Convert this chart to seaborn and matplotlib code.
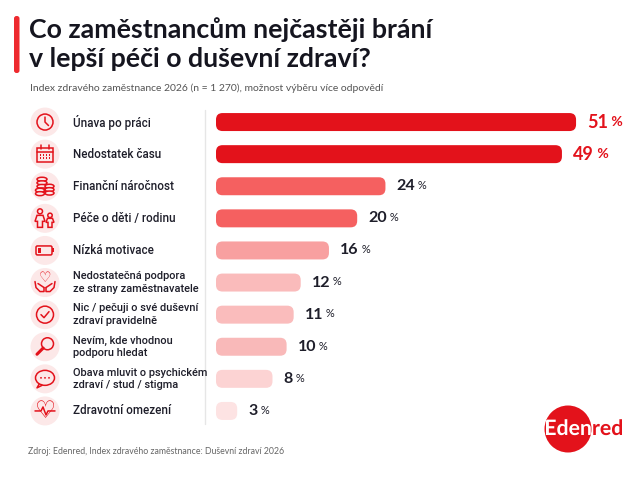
import matplotlib
matplotlib.use("Agg")
import matplotlib.pyplot as plt
import seaborn as sns
import pandas as pd
from matplotlib.patches import Circle, Rectangle, FancyBboxPatch, Ellipse, Polygon, PathPatch
from matplotlib.textpath import TextPath
from matplotlib.font_manager import FontProperties
from matplotlib.transforms import Affine2D

categories = [
    "Únava po práci",
    "Nedostatek času",
    "Finanční náročnost",
    "Péče o děti / rodinu",
    "Nízká motivace",
    "Nedostatečná podpora\nze strany zaměstnavatele",
    "Nic / pečuji o své duševní\nzdraví pravidelně",
    "Nevím, kde vhodnou\npodporu hledat",
    "Obava mluvit o psychickém\nzdraví / stud / stigma",
    "Zdravotní omezení",
]
values = [51, 49, 24, 20, 16, 12, 11, 10, 8, 3]
bar_colors = ["#E3121B", "#E3121B", "#F56060", "#F56060", "#F8A0A0",
              "#FABBBB", "#FABCBC", "#F9B9B9", "#FCD3D3", "#FDE3E3"]
title_lines = ["Co zaměstnancům nejčastěji brání", "v lepší péči o duševní zdraví?"]
subtitle = "Index zdravého zaměstnance 2026 (n = 1 270), možnost výběru více odpovědí"
source = "Zdroj: Edenred, Index zdravého zaměstnance: Duševní zdraví 2026"
brand = "Edenred"

RED = "#E3121B"
DARK = "#1E1E2A"
PINK = "#FCE8E8"

sns.set_theme(style="white")
plt.rcParams["font.family"] = ["Lato", "DejaVu Sans"]

W, H = 640, 480
fig = plt.figure(figsize=(6.4, 4.8), dpi=100)
fig.patch.set_facecolor("white")

# overlay axes in pixel coordinates
ov = fig.add_axes([0, 0, 1, 1])
ov.set_xlim(0, W)
ov.set_ylim(H, 0)
ov.axis("off")

# bar axes
px_per_unit = 7.06
ax_left, ax_top, ax_bot, ax_w = 216, 106, 427, 410
ax = fig.add_axes([ax_left / W, 1 - ax_bot / H, ax_w / W, (ax_bot - ax_top) / H])
df = pd.DataFrame({"cat": categories, "val": values})
sns.barplot(data=df, y="cat", x="val", hue="cat", palette=bar_colors,
            legend=False, width=0.56, ax=ax, orient="h", saturation=1)
ax.set_xlim(0, ax_w / px_per_unit)
ax.set_ylim(len(categories) - 0.5, -0.5)
ax.axis("off")

# replace bars with rounded ones
row_px = (ax_bot - ax_top) / len(categories)
aspect = (1 / row_px) / (1 / px_per_unit)
for p in list(ax.patches):
    x, y, w, h = p.get_x(), p.get_y(), p.get_width(), p.get_height()
    col = p.get_facecolor()
    p.set_visible(False)
    fb = FancyBboxPatch((x, y), w, h,
                        boxstyle="round,pad=0,rounding_size=%f" % (6.5 / px_per_unit),
                        mutation_aspect=aspect, fc=col, ec="none")
    ax.add_patch(fb)

# value labels
for i, v in enumerate(values):
    top = i < 2
    c = RED if top else DARK
    t = ax.annotate(str(v), xy=(v, i), xytext=(8, 0), textcoords="offset points",
                    ha="left", va="center", fontsize=13 if top else 11.5,
                    fontweight="bold", color=c, annotation_clip=False)
    ax.annotate(" %", xy=(1, 0.16), xycoords=t, ha="left", va="bottom",
                fontsize=10 if top else 8, fontweight="bold" if top else "normal",
                color=c, annotation_clip=False)

# separator line
ov.plot([205, 205], [110, 424], color="#E6E6E6", lw=1)

# title block
ov.add_patch(FancyBboxPatch((14, 16), 5.5, 57, boxstyle="round,pad=0,rounding_size=2.5",
                            fc="#EE2A2F", ec="none"))
ov.text(29, 30, title_lines[0], fontsize=19.3, fontweight="bold", color="#15151F",
        va="center", ha="left")
ov.text(29, 59, title_lines[1], fontsize=19.3, fontweight="bold", color="#15151F",
        va="center", ha="left")
ov.text(30, 88, subtitle, fontsize=7.5, color="#555555", va="center", ha="left")
ov.text(28, 451, source, fontsize=6.3, color="#666666", va="center", ha="left")

# category labels + icons
icon_x = 45
for i, cat in enumerate(categories):
    cy = ax_top + row_px * (i + 0.5)
    two = "\n" in cat
    ov.text(73, cy, cat, fontsize=7.9 if two else 8.4, color=DARK, va="center",
            ha="left", linespacing=1.3, family=["Roboto", "DejaVu Sans"],
            fontweight="medium")
    ov.add_patch(Circle((icon_x, cy), 14.5, fc=PINK, ec="none"))

lw = 1.1
def line(xs, ys, w=lw):
    ov.plot(xs, ys, color=RED, lw=w, solid_capstyle="round", solid_joinstyle="round")

def cy_of(i):
    return ax_top + row_px * (i + 0.5)

cx = icon_x
# 0 clock
c = cy_of(0)
ov.add_patch(Circle((cx, c), 8, fill=False, ec=RED, lw=lw))
line([cx, cx, cx + 3.5], [c - 5, c, c + 3.5])
# 1 calendar
c = cy_of(1)
ov.add_patch(Rectangle((cx - 8, c - 6), 16, 14, fill=False, ec=RED, lw=lw))
line([cx - 8, cx + 8], [c - 2, c - 2])
line([cx - 4, cx - 4], [c - 9, c - 5])
line([cx + 4, cx + 4], [c - 9, c - 5])
for gx in (-4.5, -1.5, 1.5, 4.5):
    for gy in (1, 4):
        ov.add_patch(Rectangle((cx + gx - 0.8, c + gy - 0.8), 1.6, 1.6, fc=RED, ec="none"))
# 2 coins
c = cy_of(2)
for k in range(4):
    ov.add_patch(Ellipse((cx - 3, c - 7 + k * 3.6), 10, 4, fc=PINK, ec=RED, lw=lw))
for k in range(3):
    ov.add_patch(Ellipse((cx + 4.5, c + k * 3.4), 9, 4, fc=PINK, ec=RED, lw=lw))
for k in range(2):
    ov.add_patch(Ellipse((cx - 5, c + 4 + k * 3.4), 9, 4, fc=PINK, ec=RED, lw=lw))
# 3 people
c = cy_of(3)
ov.add_patch(Circle((cx - 5, c - 7), 2.5, fill=False, ec=RED, lw=lw))
ov.add_patch(Polygon([(cx - 8, c - 3), (cx - 2, c - 3), (cx, c + 3), (cx - 2.5, c + 3),
                      (cx - 2.5, c + 9), (cx - 7.5, c + 9), (cx - 7.5, c + 3), (cx - 10, c + 3)],
                     closed=True, fill=False, ec=RED, lw=lw))
ov.add_patch(Circle((cx + 5, c - 3), 2.2, fill=False, ec=RED, lw=lw))
ov.add_patch(Polygon([(cx + 2.5, c), (cx + 7.5, c), (cx + 9, c + 4), (cx + 7, c + 4),
                      (cx + 7, c + 9), (cx + 3, c + 9), (cx + 3, c + 4), (cx + 1, c + 4)],
                     closed=True, fill=False, ec=RED, lw=lw))
# 4 battery
c = cy_of(4)
ov.add_patch(FancyBboxPatch((cx - 9, c - 4.5), 16, 9, boxstyle="round,pad=0,rounding_size=1.5",
                            fill=False, ec=RED, lw=lw))
ov.add_patch(Rectangle((cx + 7, c - 2), 2, 4, fc=RED, ec="none"))
ov.add_patch(Rectangle((cx - 7, c - 2.5), 3, 5, fc=RED, ec="none"))
# 5 heart in hands
c = cy_of(5)
ov.text(cx, c - 4, "\u2661", fontsize=10, color=RED, ha="center", va="center",
        family="DejaVu Sans")
line([cx - 10, cx - 9, cx - 5, cx - 1, cx - 1], [c - 1, c + 5, c + 9, c + 9, c + 5])
line([cx + 10, cx + 9, cx + 5, cx + 1, cx + 1], [c - 1, c + 5, c + 9, c + 9, c + 5])
line([cx - 7, cx - 4, cx - 1], [c + 1, c + 3, c + 5])
line([cx + 7, cx + 4, cx + 1], [c + 1, c + 3, c + 5])
# 6 check
c = cy_of(6)
ov.add_patch(Circle((cx, c), 8.5, fill=False, ec=RED, lw=lw))
line([cx - 4, cx - 1, cx + 4], [c, c + 3, c - 3])
# 7 magnifier
c = cy_of(7)
ov.add_patch(Circle((cx + 2.5, c - 3), 6, fill=False, ec=RED, lw=lw))
line([cx - 1.8, cx - 8], [c + 1.3, c + 7.5], w=2.2)
# 8 speech bubble
c = cy_of(8)
ov.add_patch(Ellipse((cx, c - 1), 19, 15, fill=False, ec=RED, lw=lw))
for dx in (-4, 0, 4):
    ov.add_patch(Circle((cx + dx, c - 1), 0.9, fc=RED, ec="none"))
line([cx - 6, cx - 8, cx - 3], [c + 5.5, c + 9, c + 6.5])
# 9 heart with pulse
c = cy_of(9)
ov.text(cx, c + 0.5, "\u2661", fontsize=17, color=RED, ha="center", va="center",
        family="DejaVu Sans")
line([cx - 10, cx - 4, cx - 2, cx + 1, cx + 3, cx + 10],
     [c, c, c - 4, c + 4, c, c])

# Edenred logo
logo = Circle((568, 429), 23.5, fc="#E3121B", ec="none")
ov.add_patch(logo)
tp = TextPath((0, 0), brand, size=10, prop=FontProperties(family="Lato", weight="bold"))
ext = tp.get_extents()
s = 76.0 / ext.width
tr = Affine2D().translate(-ext.x0, 0).scale(s, -s).translate(546, 435) + ov.transData
ov.add_patch(PathPatch(tp, transform=tr, fc="#E3121B", ec="none"))
wp = PathPatch(tp, transform=tr, fc="white", ec="none")
ov.add_patch(wp)
wp.set_clip_path(logo)

fig.savefig("out.png", dpi=100, facecolor="white")
